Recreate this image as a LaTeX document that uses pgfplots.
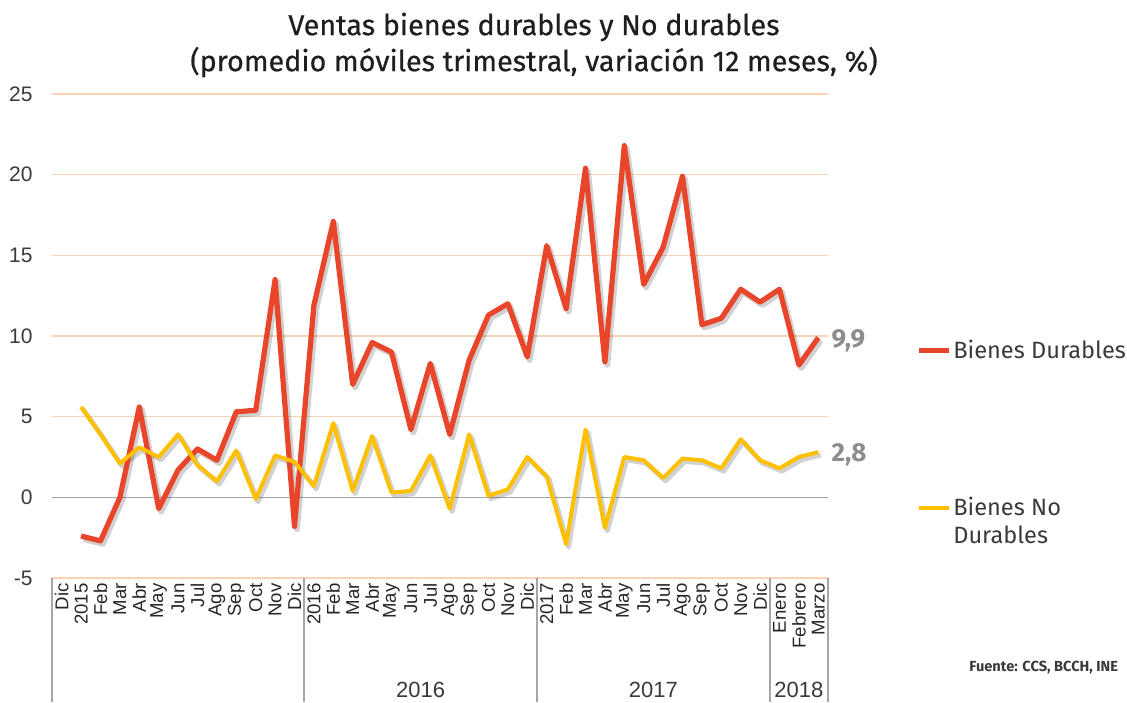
\documentclass[border=0pt]{standalone}
\usepackage{fontspec}
\setmainfont{Fira Sans}
\newfontfamily\titlefont[FakeBold=0.5]{Fira Sans}
\newfontfamily\arialfont{Liberation Sans}
\usepackage{pgfplots}
\pgfplotsset{compat=1.18}
\usepackage{pgfplotstable}
\definecolor{durred}{HTML}{E8452A}
\definecolor{ndyel}{HTML}{FFC000}
\definecolor{gridpeach}{HTML}{FAD3B6}
\definecolor{sepgray}{HTML}{A6A6A6}
\definecolor{txtgray}{HTML}{3A3A3A}
\definecolor{lblgray}{HTML}{8C8C8C}

\pgfplotstableread{
x y
1 -2.4
2 -2.7
3 0.0
4 5.6
5 -0.7
6 1.7
7 3.0
8 2.3
9 5.3
10 5.4
11 13.5
12 -1.8
13 11.9
14 17.1
15 7.0
16 9.6
17 9.0
18 4.2
19 8.3
20 3.9
21 8.5
22 11.3
23 12.0
24 8.7
25 15.6
26 11.7
27 20.4
28 8.4
29 21.8
30 13.2
31 15.5
32 19.9
33 10.7
34 11.1
35 12.9
36 12.1
37 12.9
38 8.2
39 9.9
}\durables

\pgfplotstableread{
x y
1 5.6
2 3.9
3 2.1
4 3.1
5 2.5
6 3.9
7 2.0
8 1.0
9 2.9
10 -0.1
11 2.6
12 2.2
13 0.7
14 4.6
15 0.4
16 3.8
17 0.3
18 0.4
19 2.6
20 -0.7
21 3.9
22 0.1
23 0.5
24 2.5
25 1.3
26 -2.9
27 4.2
28 -1.9
29 2.5
30 2.3
31 1.2
32 2.4
33 2.3
34 1.8
35 3.6
36 2.3
37 1.8
38 2.5
39 2.8
}\nodurables

\begin{document}
\begin{tikzpicture}
\path[use as bounding box] (0,0) rectangle (563.5pt,-351pt);
\node[align=center, font=\titlefont\fontsize{14.4}{18}\selectfont, text=black!88] at (267pt,-22.5pt)
  {Ventas bienes durables y No durables\\(promedio móviles trimestral, variación 12 meses, \%)};
\node[anchor=east, font=\bfseries\fontsize{7.3}{8}\selectfont, text=txtgray] at (562.5pt,-334pt) {Fuente: CCS, BCCH, INE};
\begin{axis}[
  at={(26pt,-289pt)}, anchor=south west,
  scale only axis, width=388pt, height=242pt,
  xmin=-0.5, xmax=39.5, ymin=-5, ymax=25,
  xtick={0,...,39},
  xticklabels={Dic,2015,Feb,Mar,Abr,May,Jun,Jul,Ago,Sep,Oct,Nov,Dic,2016,Feb,Mar,Abr,May,Jun,Jul,Ago,Sep,Oct,Nov,Dic,2017,Feb,Mar,Abr,May,Jun,Jul,Ago,Sep,Oct,Nov,Dic,Enero,Febrero,Marzo},
  ytick={-5,0,5,10,15,20,25},
  yticklabels={-5,0,5,10,15,20,25},
  ymajorgrids, grid style={gridpeach, line width=0.8pt},
  axis line style={draw=none},
  major tick length=0pt,
  xticklabel style={rotate=90, anchor=east, inner sep=2.5pt, font=\arialfont\fontsize{9.3}{9.3}\selectfont, text=black!85},
  yticklabel style={anchor=east, inner sep=0pt, xshift=-9.5pt, font=\arialfont\fontsize{10.5}{10.5}\selectfont, text=txtgray},
  clip=false,
  legend image code/.code={\draw[#1] (0pt,0pt) -- (15pt,0pt);},
  legend cell align=left,
  legend style={draw=none, fill=none, at={(axis description cs:1.113,0.497)}, anchor=north west,
    row sep=65.5pt, inner sep=0pt, column sep=0pt,
    nodes={inner sep=1pt, text=txtgray, font=\fontsize{11.8}{14}\selectfont}},
]
\draw[sepgray, line width=0.8pt] (axis cs:-0.5,0) -- (axis cs:39.5,0);
\addplot[forget plot, black, opacity=0.18, line width=3pt, line join=round, transform canvas={shift={(1.2pt,-1.4pt)}}] table[x=x,y=y] {\durables};
\addplot[forget plot, black, opacity=0.18, line width=2.5pt, line join=round, transform canvas={shift={(1.2pt,-1.4pt)}}] table[x=x,y=y] {\nodurables};
\addplot[durred, line width=2.6pt, line join=round] table[x=x,y=y] {\durables};
\addlegendentry{Bienes Durables}
\addplot[ndyel, line width=2pt, line join=round] table[x=x,y=y] {\nodurables};
\addlegendentry{\raisebox{0pt}[\height][0pt]{\begin{tabular}[t]{@{}l@{}}Bienes No\\Durables\end{tabular}}}
\draw[sepgray, line width=0.8pt] (axis cs:-0.5,-5) -- ([yshift=-62pt]axis cs:-0.5,-5);
\draw[sepgray, line width=0.8pt] (axis cs:12.5,-5) -- ([yshift=-62pt]axis cs:12.5,-5);
\draw[sepgray, line width=0.8pt] (axis cs:24.5,-5) -- ([yshift=-62pt]axis cs:24.5,-5);
\draw[sepgray, line width=0.8pt] (axis cs:36.5,-5) -- ([yshift=-62pt]axis cs:36.5,-5);
\draw[sepgray, line width=0.8pt] (axis cs:39.5,-5) -- ([yshift=-62pt]axis cs:39.5,-5);
\node[font=\arialfont\fontsize{11}{11}\selectfont, text=txtgray] at ([yshift=-56pt]axis cs:18.5,-5) {2016};
\node[font=\arialfont\fontsize{11}{11}\selectfont, text=txtgray] at ([yshift=-56pt]axis cs:30.5,-5) {2017};
\node[font=\arialfont\fontsize{11}{11}\selectfont, text=txtgray] at ([yshift=-56pt]axis cs:38,-5) {2018};
\node[anchor=west, inner sep=0pt, font=\bfseries\fontsize{13}{13}\selectfont, text=lblgray] at ([xshift=6.5pt,yshift=-1.5pt]axis cs:39,9.9) {9,9};
\node[anchor=west, inner sep=0pt, font=\bfseries\fontsize{13}{13}\selectfont, text=lblgray] at ([xshift=6.5pt,yshift=-1.5pt]axis cs:39,2.8) {2,8};
\end{axis}
\end{tikzpicture}
\end{document}
